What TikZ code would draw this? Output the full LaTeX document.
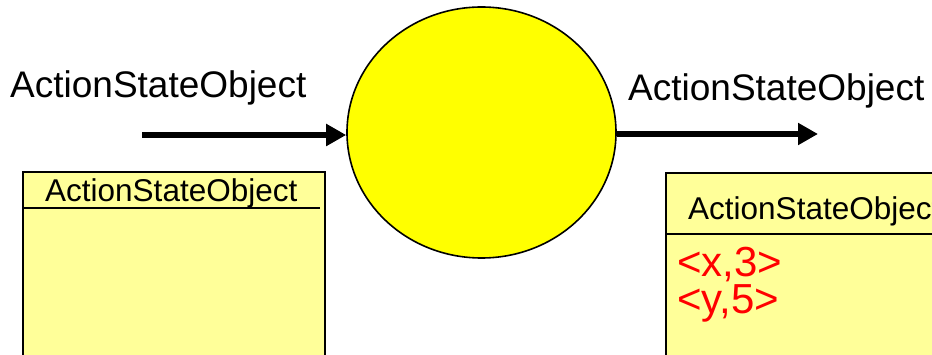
\documentclass[tikz,border=0pt]{standalone}
\usepackage{fontspec}
\setmainfont{Liberation Sans}
\usetikzlibrary{shapes.geometric,arrows.meta}
\definecolor{sunyellow}{HTML}{FFFF00}
\definecolor{paleyellow}{HTML}{FFFF99}
\definecolor{valred}{HTML}{FF0000}
\tikzset{
  flowarrow/.style={line width=6pt,-{Triangle[length=20pt,width=21pt]}},
  objbox/.style={draw=black,line width=1.6pt,fill=paleyellow,rectangle,inner sep=0pt,anchor=north west},
  bigtext/.style={font=\fontsize{37}{40}\selectfont,inner sep=0pt,anchor=base west},
  headtext/.style={font=\fontsize{31.5}{34}\selectfont,inner sep=0pt,anchor=base west},
  valtext/.style={font=\fontsize{42}{37}\selectfont,text=valred,inner sep=0pt,align=left},
}
\begin{document}
\begin{tikzpicture}[x=1pt,y=-1pt]
\clip (0,0) rectangle (932,355);
\fill[white] (0,0) rectangle (932,355);
% process ellipse
\node[ellipse,draw=black,line width=1.6pt,fill=sunyellow,minimum width=269pt,minimum height=251pt,inner sep=0pt] (proc) at (481.5,132.5) {};
% labels above arrows
\node[bigtext] (inlabel) at (10,98) {ActionStateObject};
\node[bigtext] (outlabel) at (628,101) {ActionStateObject};
% arrows
\coordinate (instart) at (142,135);
\coordinate (outend) at (818,134);
\draw[flowarrow] (instart) -- (instart -| proc.west);
\draw[flowarrow] (proc.east |- outend) -- (outend);
% left object box
\node[objbox,minimum width=302pt,minimum height=220pt] (lbox) at (22,171) {};
\node[headtext] (lhead) at (45,202) {ActionStateObject};
\coordinate (lsepA) at (22,208);
\coordinate (lsepB) at (320,208);
\draw[line width=1.6pt] (lsepA) -- (lsepB);
% right object box
\node[objbox,minimum width=300pt,minimum height=220pt] (rbox) at (665,172) {};
\node[headtext] (rhead) at (688,220) {ActionStateObject};
\coordinate (rsepA) at (665,234);
\coordinate (rsepB) at (970,234);
\draw[line width=1.6pt] (rsepA) -- (rsepB);
\node[valtext,anchor=north west] (vals) at (677,247) {<x,3>\\<y,5>};
\end{tikzpicture}
\end{document}
